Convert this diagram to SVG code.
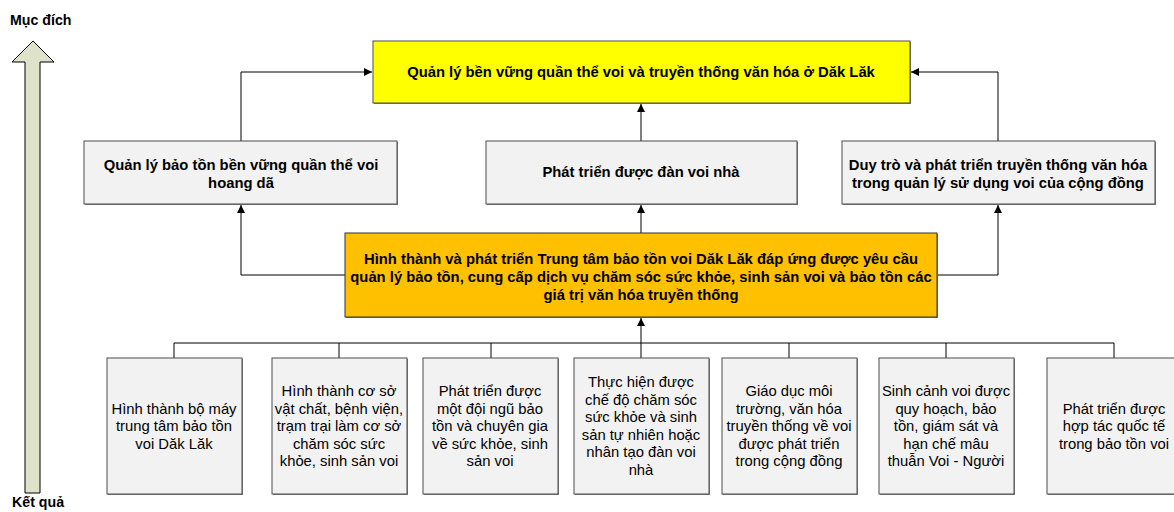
<svg xmlns="http://www.w3.org/2000/svg" width="1174" height="512" viewBox="0 0 1174 512">
<defs>
<marker id="ah" viewBox="0 0 10 10" refX="10" refY="5" markerWidth="8" markerHeight="8" markerUnits="userSpaceOnUse" orient="auto">
<path d="M0,0 L10,5 L0,10 z" fill="#000"/>
</marker>
</defs>
<style>
.bx{fill:#f2f2f2;stroke:#4d4d4d;stroke-width:1}
.sh{fill:#7f7f7f}
.yl{fill:#ffff00;stroke:#4d4d4d;stroke-width:1}
.or{fill:#ffc000;stroke:#333;stroke-width:1}
.b{font-family:"Liberation Sans",Arial,sans-serif;font-size:14.8px;font-weight:bold;fill:#000;text-anchor:middle}
.r{font-family:"Liberation Sans",Arial,sans-serif;font-size:14.8px;fill:#000;text-anchor:middle}
.lb{font-family:"Liberation Sans",Arial,sans-serif;font-size:14.2px;font-weight:bold;fill:#000}
.ln{fill:none;stroke:#000;stroke-width:1}
</style>
<rect width="1174" height="512" fill="#fff"/>
<g id="axis">
<polygon points="33,41 12,62 25,62 25,493 40,493 40,62 54,62" fill="#dde2c9" stroke="#000" stroke-width="1"/>
<text x="10" y="25" class="lb">Mục đích</text>
<text x="12" y="507" class="lb">Kết quả</text>
</g>
<g id="connectors">
<polyline class="ln" points="241,141 241,72 372,72" marker-end="url(#ah)"/>
<polyline class="ln" points="998,141 998,72 911,72" marker-end="url(#ah)"/>
<line class="ln" x1="641" y1="141" x2="641" y2="104" marker-end="url(#ah)"/>
<polyline class="ln" points="345,275 241,275 241,205" marker-end="url(#ah)"/>
<polyline class="ln" points="937,275 998,275 998,205" marker-end="url(#ah)"/>
<line class="ln" x1="641" y1="233" x2="641" y2="205" marker-end="url(#ah)"/>
<line class="ln" x1="641" y1="358" x2="641" y2="318" marker-end="url(#ah)"/>
<polyline class="ln" points="174,358 174,343 1114,343 1114,358"/>
<line class="ln" x1="339" y1="343" x2="339" y2="358"/>
<line class="ln" x1="491" y1="343" x2="491" y2="358"/>
<line class="ln" x1="789" y1="343" x2="789" y2="358"/>
<line class="ln" x1="946" y1="343" x2="946" y2="358"/>
</g>
<g id="goal">
<rect x="374" y="42" width="537" height="62" class="sh"/>
<rect x="373" y="41" width="537" height="62" class="yl"/>
<text x="641" y="77" class="b">Quản lý bền vững quần thể voi và truyền thống văn hóa ở Dăk Lăk</text>
</g>
<g id="wild">
<rect x="85" y="142" width="313" height="63" class="sh"/>
<rect x="84" y="141" width="313" height="63" class="bx"/>
<text x="241" y="170" class="b">Quản lý bảo tồn bền vững quần thể voi</text>
<text x="241" y="188" class="b">hoang dã</text>
</g>
<g id="domestic">
<rect x="487" y="142" width="311" height="63" class="sh"/>
<rect x="486" y="141" width="311" height="63" class="bx"/>
<text x="641" y="177" class="b">Phát triển được đàn voi nhà</text>
</g>
<g id="culture">
<rect x="843" y="142" width="313" height="63" class="sh"/>
<rect x="842" y="141" width="313" height="63" class="bx"/>
<text x="998" y="170" class="b">Duy trò và phát triển truyền thống văn hóa</text>
<text x="998" y="188" class="b">trong quản lý sử dụng voi của cộng đồng</text>
</g>
<g id="center">
<rect x="346" y="234" width="592" height="84" class="sh"/>
<rect x="345" y="233" width="592" height="84" class="or"/>
<text x="641" y="264" class="b">Hình thành và phát triển Trung tâm bảo tồn voi Dăk Lăk đáp ứng được yêu cầu</text>
<text x="641" y="282" class="b">quản lý bảo tồn, cung cấp dịch vụ chăm sóc sức khỏe, sinh sản voi và bảo tồn các</text>
<text x="641" y="300" class="b">giá trị văn hóa truyền thống</text>
</g>
<g id="o1">
<rect x="108" y="359" width="135" height="136" class="sh"/>
<rect x="107" y="358" width="135" height="136" class="bx"/>
<text x="174" y="413.5" class="r">Hình thành bộ máy</text>
<text x="174" y="431" class="r">trung tâm bảo tồn</text>
<text x="174" y="448.5" class="r">voi Dăk Lăk</text>
</g>
<g id="o2">
<rect x="273" y="359" width="135" height="136" class="sh"/>
<rect x="272" y="358" width="135" height="136" class="bx"/>
<text x="339" y="396" class="r">Hình thành cơ sở</text>
<text x="339" y="413.5" class="r">vật chất, bệnh viện,</text>
<text x="339" y="431" class="r">trạm trại làm cơ sở</text>
<text x="339" y="448.5" class="r">chăm sóc sức</text>
<text x="339" y="466" class="r">khỏe, sinh sản voi</text>
</g>
<g id="o3">
<rect x="424" y="359" width="135" height="136" class="sh"/>
<rect x="423" y="358" width="135" height="136" class="bx"/>
<text x="490" y="396" class="r">Phát triển được</text>
<text x="490" y="413.5" class="r">một đội ngũ bảo</text>
<text x="490" y="431" class="r">tồn và chuyên gia</text>
<text x="490" y="448.5" class="r">về sức khỏe, sinh</text>
<text x="490" y="466" class="r">sản voi</text>
</g>
<g id="o4">
<rect x="575" y="359" width="135" height="136" class="sh"/>
<rect x="574" y="358" width="135" height="136" class="bx"/>
<text x="641" y="387" class="r">Thực hiện được</text>
<text x="641" y="404.5" class="r">chế độ chăm sóc</text>
<text x="641" y="422" class="r">sức khỏe và sinh</text>
<text x="641" y="439.5" class="r">sản tự nhiên hoặc</text>
<text x="641" y="457" class="r">nhân tạo đàn voi</text>
<text x="641" y="474.5" class="r">nhà</text>
</g>
<g id="o5">
<rect x="723" y="359" width="135" height="136" class="sh"/>
<rect x="722" y="358" width="135" height="136" class="bx"/>
<text x="789" y="396" class="r">Giáo dục môi</text>
<text x="789" y="413.5" class="r">trường, văn hóa</text>
<text x="789" y="431" class="r">truyền thống về voi</text>
<text x="789" y="448.5" class="r">được phát triển</text>
<text x="789" y="466" class="r">trong cộng đồng</text>
</g>
<g id="o6">
<rect x="880" y="359" width="135" height="136" class="sh"/>
<rect x="879" y="358" width="135" height="136" class="bx"/>
<text x="946" y="396" class="r">Sinh cảnh voi được</text>
<text x="946" y="413.5" class="r">quy hoạch, bảo</text>
<text x="946" y="431" class="r">tồn, giám sát và</text>
<text x="946" y="448.5" class="r">hạn chế  mâu</text>
<text x="946" y="466" class="r">thuẫn Voi - Người</text>
</g>
<g id="o7">
<rect x="1048" y="359" width="135" height="136" class="sh"/>
<rect x="1047" y="358" width="135" height="136" class="bx"/>
<text x="1114" y="413.5" class="r">Phát triển được</text>
<text x="1114" y="431" class="r">hợp tác quốc tế</text>
<text x="1114" y="448.5" class="r">trong bảo tồn voi</text>
</g>
</svg>
